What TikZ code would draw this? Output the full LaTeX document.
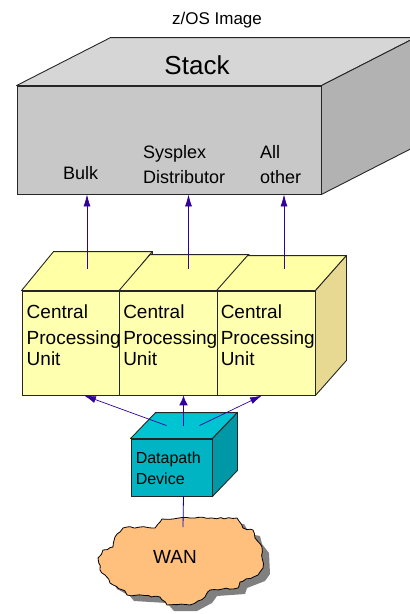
\documentclass[tikz,border=0pt]{standalone}
\usepackage{fontspec}
\setmainfont{Liberation Sans}
\usepackage{tikz}
\usetikzlibrary{shapes,arrows,arrows.meta,calc,decorations.pathmorphing}
\definecolor{stackfront}{HTML}{C8C8C8}
\definecolor{stacktop}{HTML}{D6D6D6}
\definecolor{stackside}{HTML}{B2B2B2}
\definecolor{cpufront}{HTML}{FFFFB0}
\definecolor{cputop}{HTML}{FFFFA6}
\definecolor{cpuside}{HTML}{E8D992}
\definecolor{dpfront}{HTML}{00B4C4}
\definecolor{dptopface}{HTML}{00C4D2}
\definecolor{dpside}{HTML}{0098A6}
\definecolor{wanfill}{HTML}{FFC07E}
\definecolor{wanshadow}{HTML}{808080}
\definecolor{arrowblue}{HTML}{330099}
\definecolor{wireblue}{HTML}{0000CC}
\tikzstyle{face} = [rectangle, draw=black!85, line width=0.9pt, inner sep=0pt]
\tikzstyle{stackblock} = [face, fill=stackfront, minimum width=304pt, minimum height=108pt]
\tikzstyle{cpublock} = [face, fill=cpufront, minimum width=98pt, minimum height=104pt]
\tikzstyle{dpblock} = [face, fill=dpfront, minimum width=81pt, minimum height=57pt]
\tikzstyle{boxtext} = [inner sep=0pt, align=left, anchor=north west]
\tikzstyle{line} = [draw=arrowblue, line width=0.7pt, -{Latex[length=12pt,width=7pt]}]
% top and right face of a box, drawn behind its front node
\newcommand{\boxsides}[5]{%
  \filldraw[fill=#4, draw=black!85, line width=0.9pt, line join=round]
    (#1.north west) -- ++(#2,#3) -- ($(#1.north east)+(#2,#3)$) -- (#1.north east) -- cycle;
  \filldraw[fill=#5, draw=black!85, line width=0.9pt, line join=round]
    (#1.north east) -- ++(#2,#3) -- ($(#1.south east)+(#2,#3)$) -- (#1.south east) -- cycle;}
\newcommand{\wanoutline}{(155,528) -- (162,519) -- (190,518) -- (212,518) -- (237,518)
  -- (243,528) -- (253,530) -- (255,538) -- (262,547) -- (263,568) -- (258,575)
  -- (240,582) -- (238,588) -- (210,590) -- (205,597) -- (190,605) -- (167,605)
  -- (160,597) -- (127,595) -- (123,590) -- (110,583) -- (105,575) -- (100,570)
  -- (98,558) -- (103,550) -- (113,547) -- (115,537) -- (123,528) -- (140,527) -- cycle}
\begin{document}
\begin{tikzpicture}[x=1pt, y=-1pt, node distance=97.5pt]
    \useasboundingbox (0,0) rectangle (410,614);
    \clip (0,0) rectangle (410,614);
    % Place nodes
    \node (title) at (217,20) {\fontsize{17}{20}\selectfont z/OS Image};
    \node [stackblock] (stack) at (169,140) {};
    \boxsides{stack}{94}{-48}{stacktop}{stackside}
    \node (stacklabel) at (197,65) {\fontsize{26}{30}\selectfont Stack};
    \node [boxtext, font=\fontsize{18}{25}\selectfont] (bulk) at (63,166) {Bulk};
    \node [boxtext, font=\fontsize{18}{25}\selectfont] (sysplex) at (143,145) {Sysplex\\Distributor};
    \node [boxtext, font=\fontsize{18}{25}\selectfont] (allother) at (260,145) {All\\other};
    \node [cpublock] (cpu1) at (71,343) {};
    \boxsides{cpu1}{32}{-39}{cputop}{cpuside}
    \node [boxtext, font=\fontsize{19}{21}\selectfont] (cpu1txt) at ($(cpu1.north west)+(5,14)$) {Central\\[5pt]Processing\\Unit};
    \node [cpublock, right of=cpu1] (cpu2) {};
    \boxsides{cpu2}{31}{-36}{cputop}{cpuside}
    \node [boxtext, font=\fontsize{19}{21}\selectfont] (cpu2txt) at ($(cpu2.north west)+(4,14)$) {Central\\[5pt]Processing\\Unit};
    \node [cpublock, right of=cpu2] (cpu3) {};
    \boxsides{cpu3}{31}{-35}{cputop}{cpuside}
    \node [boxtext, font=\fontsize{19}{21}\selectfont] (cpu3txt) at ($(cpu3.north west)+(4,14)$) {Central\\[5pt]Processing\\Unit};
    \node [dpblock] (datapath) at (171.5,467.5) {};
    \boxsides{datapath}{25}{-26}{dptopface}{dpside}
    \node [boxtext, font=\fontsize{16}{21}\selectfont] (dptxt) at ($(datapath.north west)+(5,13)$) {Datapath\\Device};
    \fill [wanshadow, shift={(7,6)}] \wanoutline;
    \pgfmathsetseed{11}
    \filldraw [fill=wanfill, draw=black, line width=0.8pt, decorate,
        decoration={random steps, segment length=4pt, amplitude=1pt}] \wanoutline;
    \node (wan) at (175,557) {\fontsize{19}{22}\selectfont WAN};
    % Draw edges
    \coordinate (cpu1out) at ($(cpu1.north)+(16,-22)$);
    \coordinate (cpu2out) at ($(cpu2.north)+(20,-22)$);
    \coordinate (cpu3out) at ($(cpu3.north)+(18,-22)$);
    \path [line] (cpu1out) -- (cpu1out |- stack.south);
    \path [line] (cpu2out) -- (cpu2out |- stack.south);
    \path [line] (cpu3out) -- (cpu3out |- stack.south);
    \coordinate (dpstart) at ($(datapath.north)+(12,-13)$);
    \path [line, line width=1.4pt, -{Latex[length=10pt,width=9pt]}] (dpstart) -- (dpstart |- cpu2.south);
    \path [line] ($(dpstart)+(-17,0)$) -- ($(cpu1.south)+(13,0)$);
    \path [line] ($(dpstart)+(16,0)$) -- ($(cpu3.south)+(-4,0)$);
    \coordinate (wantop) at (183,527);
    \draw [wireblue, line width=0.8pt] ($(datapath.south)+(12,0)$) -- (wantop);
\end{tikzpicture}
\end{document}
